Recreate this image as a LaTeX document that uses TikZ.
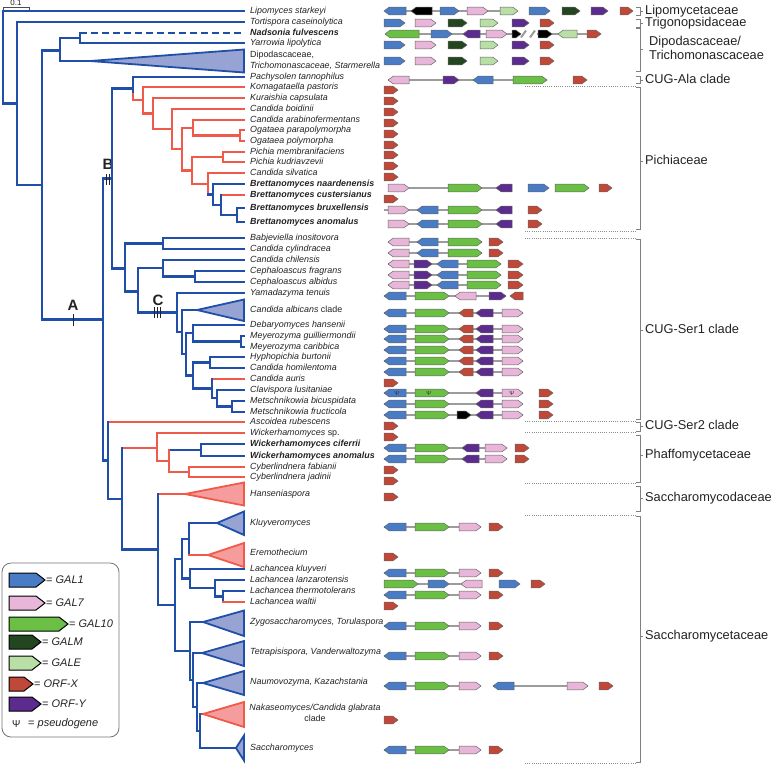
\documentclass[tikz,border=0pt]{standalone}
\usepackage{fontspec}
\setmainfont{Liberation Sans}
\usetikzlibrary{positioning}
\definecolor{treeBlue}{HTML}{1F4FA8}
\definecolor{treeRed}{HTML}{F05A4A}
\definecolor{triBlue}{HTML}{97A3D3}
\definecolor{triRed}{HTML}{F59C9C}
\definecolor{gBlue}{HTML}{4A7BC5}
\definecolor{gPink}{HTML}{E8B6D8}
\definecolor{gGreen}{HTML}{6BBF45}
\definecolor{gDark}{HTML}{23451F}
\definecolor{gLight}{HTML}{B9DEA6}
\definecolor{gRed}{HTML}{BF4838}
\definecolor{gPurple}{HTML}{5B2C8E}
\definecolor{linkGray}{HTML}{9C9C9C}
\definecolor{txt}{HTML}{222222}
\tikzset{
  tb/.style={draw=treeBlue, line width=2.3pt, line cap=rect, line join=miter},
  tr/.style={draw=treeRed, line width=2.3pt, line cap=rect, line join=miter},
  cladeB/.style={draw=treeBlue, fill=triBlue, line width=1.8pt, line join=miter},
  cladeR/.style={draw=treeRed, fill=triRed, line width=1.8pt, line join=miter},
  sp/.style={font=\fontsize{8.9}{10}\selectfont\itshape, text=txt, anchor=west,
    inner sep=0pt, text height=6.4pt, text depth=1.9pt},
  spb/.style={sp, font=\fontsize{8.9}{10}\selectfont\itshape\bfseries},
  fam/.style={font=\fontsize{12.8}{14}\selectfont, text=txt, anchor=west, inner sep=0pt,
    text height=9.2pt, text depth=2.6pt},
  famline/.style={draw=black!50, line width=0.6pt},
  sepline/.style={draw=black!45, line width=0.7pt, dash pattern=on 0.8pt off 1.4pt},
  cladetag/.style={font=\fontsize{15}{15}\selectfont\bfseries, text=txt, inner sep=0pt},
  tickln/.style={draw=txt, line width=0.9pt},
  link/.style={draw=linkGray, line width=2.6pt},
  gene/.style={draw=black!60, line width=0.5pt, line join=miter},
  g1/.style={gene, fill=gBlue}, g7/.style={gene, fill=gPink}, g10/.style={gene, fill=gGreen},
  gm/.style={gene, fill=gDark}, ge/.style={gene, fill=gLight}, gx/.style={gene, fill=gRed},
  gy/.style={gene, fill=gPurple}, gk/.style={gene, fill=black},
  lg/.style={font=\fontsize{11}{12}\selectfont, text=txt, anchor=west, inner sep=1pt},
  psi/.style={font=\fontsize{6}{6}\selectfont, text=black!80, inner sep=0pt}
}
% gene arrows: from x1 to x2 at height y
\newcommand{\gR}[4]{\path[#4] (#1,#3-3.8) -- (#2-5,#3-3.8) -- (#2,#3) -- (#2-5,#3+3.8) -- (#1,#3+3.8) -- cycle;}
\newcommand{\gL}[4]{\path[#4] (#1,#3) -- (#1+5,#3-3.8) -- (#2,#3-3.8) -- (#2,#3+3.8) -- (#1+5,#3+3.8) -- cycle;}
\newcommand{\lgR}[4]{\path[#4, line width=1pt, draw=black] (#1,#3-7) -- (#2-9,#3-7) -- (#2,#3) -- (#2-9,#3+7) -- (#1,#3+7) -- cycle;}
\newcommand{\lnk}[3]{\path[link] (#1,#3) -- (#2,#3);}
% cluster rows
\newcommand{\rowT}[1]{\gR{384}{405}{#1}{g1}\gR{415}{436}{#1}{g7}\gR{448}{467}{#1}{gm}\gR{480}{498}{#1}{ge}\gR{512}{529}{#1}{gy}\gR{540}{554}{#1}{gx}}
\newcommand{\rowBa}[1]{\lnk{388}{482}{#1}\gL{388}{409}{#1}{g7}\gL{417}{438}{#1}{g1}\gR{448}{482}{#1}{g10}\gR{489}{503}{#1}{gx}}
\newcommand{\rowCe}[1]{\lnk{388}{501}{#1}\gL{388}{409}{#1}{g7}\gR{414}{432}{#1}{gy}\gL{437}{458}{#1}{g1}\gR{467}{501}{#1}{g10}\gR{508}{523}{#1}{gx}}
\newcommand{\rowCa}[1]{\lnk{384}{523}{#1}\gL{384}{406}{#1}{g1}\gR{415}{449}{#1}{g10}\gL{459}{473}{#1}{gx}\gL{476}{493}{#1}{gy}\gR{502}{523}{#1}{g7}}
\newcommand{\rowMe}[1]{\lnk{384}{523}{#1}\gL{384}{406}{#1}{g1}\gR{415}{449}{#1}{g10}\gL{476}{493}{#1}{gy}\gR{502}{523}{#1}{g7}\gR{539}{553}{#1}{gx}}
\newcommand{\rowW}[1]{\lnk{384}{507}{#1}\gL{384}{406}{#1}{g1}\gR{415}{449}{#1}{g10}\gL{462}{479}{#1}{gy}\gR{485}{507}{#1}{g7}\gR{515}{529}{#1}{gx}}
\newcommand{\rowS}[1]{\lnk{384}{481}{#1}\gL{384}{406}{#1}{g1}\gR{415}{449}{#1}{g10}\gR{459}{481}{#1}{g7}}
\begin{document}
\begin{tikzpicture}[x=1pt,y=-1pt]
\useasboundingbox (0,0) rectangle (780,764);

% scale bar
\draw[black!70, line width=0.6pt] (3,10) -- (3,7) -- (29,7) -- (29,10);
\node[font=\fontsize{8}{8}\selectfont, text=txt, anchor=base, inner sep=0pt] (scl) at (16,5.5) {0.1};

% tree: outgroups
\draw[tb] (244,11) -- (3,11) -- (3,103.5) -- (17,103.5);
\draw[tb] (244,22) -- (17,22) -- (17,185) -- (42,185);
\draw[tb] (60,50.5) -- (42,50.5) -- (42,319.5) -- (103,319.5);
\draw[tb] (80,38) -- (60,38) -- (60,61) -- (90,61);
\draw[cladeB] (90,61) -- (244,49.5) -- (244,72.5) -- cycle;
\draw[tb] (244,43) -- (80,43) -- (80,33);
\draw[tb, line cap=butt, dash pattern=on 7pt off 4pt] (80,33) -- (244,33);
\draw[tickln] (73,314) -- (73,326);
\node[cladetag] (mA) at (73,305) {A};
\draw[tb] (112,178.5) -- (103,178.5) -- (103,460.5) -- (108,460.5);
\draw[tickln] (106,174) -- (106,185) (109,174) -- (109,185);
\node[cladetag] (mB) at (108,164) {B};
\draw[tb] (133,88.5) -- (112,88.5) -- (112,268.5) -- (125,268.5);

% CUG-Ala and Pichiaceae
\draw[tb] (244,77) -- (133,77) -- (133,94);
\draw[tr] (133,94) -- (133,100) -- (143,100);
\draw[tr] (244,87) -- (143,87) -- (143,113.5) -- (153,113.5);
\draw[tr] (244,98) -- (153,98) -- (153,129) -- (172,129);
\draw[tr] (244,109) -- (172,109) -- (172,149) -- (182,149);
\draw[tr] (193,128) -- (182,128) -- (182,170.5) -- (192,170.5);
\draw[tr] (244,120) -- (193,120) -- (193,135.5) -- (240,135.5);
\draw[tr] (244,130) -- (240,130) -- (240,141) -- (244,141);
\draw[tr] (223,157) -- (192,157) -- (192,184) -- (208,184);
\draw[tr] (244,152) -- (223,152) -- (223,162) -- (244,162);
\draw[tr] (244,173) -- (208,173) -- (208,194.5);
\draw[tb] (208,194.5) -- (213,194.5);
\draw[tb] (244,184) -- (213,184) -- (213,205) -- (221,205);
\draw[tr] (244,195) -- (221,195);
\draw[tb] (221,195) -- (221,215) -- (237,215);
\draw[tb] (244,208) -- (237,208) -- (237,222) -- (244,222);

% CUG-Ser1
\draw[tb] (163,243.5) -- (125,243.5) -- (125,291.5) -- (138,291.5);
\draw[tb] (244,238) -- (163,238) -- (163,249) -- (244,249);
\draw[tb] (163,268) -- (138,268) -- (138,312.5) -- (177,312.5);
\draw[tickln] (154,307) -- (154,318) (157,307) -- (157,318) (160,307) -- (160,318);
\node[cladetag] (mC) at (158,300) {C};
\draw[tb] (244,260) -- (163,260) -- (163,276.5) -- (195,276.5);
\draw[tb] (244,271) -- (195,271) -- (195,282) -- (244,282);
\draw[tb] (244,293) -- (177,293) -- (177,332) -- (182,332);
\draw[tb] (197,310) -- (182,310) -- (182,354) -- (186,354);
\draw[cladeB] (197,310) -- (244,299.5) -- (244,321) -- cycle;
\draw[tb] (193,333) -- (186,333) -- (186,375.5) -- (193,375.5);
\draw[tb] (244,325) -- (193,325) -- (193,341.5) -- (241,341.5);
\draw[tb] (244,336) -- (241,336) -- (241,347) -- (244,347);
\draw[tb] (210,362.5) -- (193,362.5) -- (193,388.5) -- (212,388.5);
\draw[tb] (244,357) -- (210,357) -- (210,368) -- (244,368);
\draw[tr] (244,379) -- (212,379);
\draw[tb] (212,379) -- (212,398) -- (217,398);
\draw[tb] (244,390) -- (217,390) -- (217,406.5) -- (232,406.5);
\draw[tb] (244,401) -- (232,401) -- (232,412) -- (244,412);

% Ascoidea, Phaffomycetaceae, Saccharomycodaceae, Saccharomycetaceae
\draw[tr] (244,422) -- (108,422);
\draw[tb] (108,422) -- (108,499) -- (122,499);
\draw[tr] (157,448) -- (122,448);
\draw[tb] (122,448) -- (122,549.5) -- (158,549.5);
\draw[tr] (244,433) -- (157,433) -- (157,461) -- (169,461);
\draw[tb] (201,450) -- (169,450);
\draw[tr] (169,450) -- (169,472) -- (189,472);
\draw[tb] (244,444) -- (201,444) -- (201,456) -- (244,456);
\draw[tr] (244,467) -- (189,467) -- (189,477) -- (244,477);
\draw[tr] (158,494) -- (185,494);
\draw[cladeR] (185,494) -- (244,482.5) -- (244,505.5) -- cycle;
\draw[tb] (158,494) -- (158,605) -- (175,605);
\draw[tb] (182,559) -- (175,559) -- (175,651) -- (190,651);
\draw[tb] (189,539) -- (182,539) -- (182,578.5) -- (190,578.5);
\draw[tb] (217,523) -- (189,523) -- (189,555);
\draw[tr] (189,555) -- (208,555);
\draw[cladeB] (217,523) -- (244,511.5) -- (244,535) -- cycle;
\draw[cladeR] (208,555) -- (244,543) -- (244,567) -- cycle;
\draw[tb] (244,569) -- (190,569) -- (190,588) -- (215,588);
\draw[tb] (244,580) -- (215,580) -- (215,596.5) -- (223,596.5);
\draw[tb] (244,591) -- (223,591) -- (223,602);
\draw[tr] (223,602) -- (244,602);
\draw[tb] (203,622) -- (190,622) -- (190,680) -- (193,680);
\draw[cladeB] (203,622) -- (244,610.5) -- (244,636) -- cycle;
\draw[tb] (202,653) -- (193,653) -- (193,707) -- (197,707);
\draw[cladeB] (202,653) -- (244,641) -- (244,666) -- cycle;
\draw[tb] (203,683) -- (197,683) -- (197,731) -- (200,731);
\draw[cladeB] (203,683) -- (244,671) -- (244,695) -- cycle;
\draw[tb] (203,714) -- (200,714) -- (200,748) -- (236,748);
\draw[cladeR] (203,714) -- (244,702) -- (244,727) -- cycle;
\draw[cladeB] (236,748) -- (244,735.5) -- (244,760.5) -- cycle;

% species labels
\foreach \y/\n/\t in {11/lip/Lipomyces starkeyi, 22/tor/Tortispora caseinolytica,
  43/yar/Yarrowia lipolytica, 66/dip/{Trichomonascaceae, Starmerella},
  77/pac/Pachysolen tannophilus, 87/kom/Komagataella pastoris, 98/kur/Kuraishia capsulata,
  109/cbo/Candida boidinii, 120/car/Candida arabinofermentans, 130/ogp/Ogataea parapolymorpha,
  141/ogy/Ogataea polymorpha, 152/pme/Pichia membranifaciens, 162/pku/Pichia kudriavzevii,
  173/csi/Candida silvatica, 238/bab/Babjeviella inositovora, 249/ccy/Candida cylindracea,
  260/cch/Candida chilensis, 271/cef/Cephaloascus fragrans, 282/cea/Cephaloascus albidus,
  293/yam/Yamadazyma tenuis, 310/cal/Candida albicans {\upshape clade},
  325/deb/Debaryomyces hansenii, 336/meg/Meyerozyma guilliermondii, 347/mec/Meyerozyma caribbica,
  357/hyp/Hyphopichia burtonii, 368/cho/Candida homilentoma, 379/cau/Candida auris,
  390/cla/Clavispora lusitaniae, 401/mbi/Metschnikowia bicuspidata, 412/mfr/Metschnikowia fructicola,
  422/asc/Ascoidea rubescens, 433/wsp/Wickerhamomyces {\upshape sp.},
  467/cyf/Cyberlindnera fabianii, 477/cyj/Cyberlindnera jadinii, 494/han/Hanseniaspora,
  523/klu/Kluyveromyces, 553/ere/Eremothecium, 569/lkl/Lachancea kluyveri,
  580/lla/Lachancea lanzarotensis, 591/lth/Lachancea thermotolerans, 602/lwa/Lachancea waltii,
  622/zyg/{Zygosaccharomyces, Torulaspora}, 652/tet/{Tetrapisispora, Vanderwaltozyma},
  682/nau/{Naumovozyma, Kazachstania}, 748/sac/Saccharomyces}
  \node[sp] (\n) at (250,\y) {\t};
\node[sp, font=\fontsize{8.9}{10}\selectfont] (dipa) at (250,55) {Dipodascaceae,};
\foreach \y/\n/\t in {33/nad/Nadsonia fulvescens, 184/bna/Brettanomyces naardenensis,
  195/bcu/Brettanomyces custersianus, 208/bbr/Brettanomyces bruxellensis,
  222/ban/Brettanomyces anomalus, 444/wci/Wickerhamomyces ciferrii, 456/wan/Wickerhamomyces anomalus}
  \node[spb] (\n) at (250,\y) {\t};
\node[sp, anchor=center] (naka) at (315,708) {Nakaseomyces/Candida glabrata};
\node[sp, anchor=center, font=\fontsize{8.9}{10}\selectfont] (nakb) at (315,719) {clade};

% gene clusters
\lnk{395}{515}{11}
\gL{384}{406}{11}{g1}\gL{411}{432}{11}{gk}\gR{440}{459}{11}{g1}\gR{467}{488}{11}{g7}\gR{500}{518}{11}{ge}
\gR{529}{550}{11}{g1}\gR{562}{580}{11}{gm}\gR{591}{608}{11}{gy}\gR{620}{633}{11}{gx}
\rowT{23}
\lnk{400}{521}{34}\lnk{537}{590}{34}
\draw[linkGray, line width=2pt] (521,37.5) -- (526,30.5) (530,37.5) -- (535,30.5);
\gL{385}{419}{34}{g10}\gR{431}{452}{34}{g1}\gL{463}{480}{34}{gy}\gR{486}{507}{34}{g7}
\gR{512}{521}{34}{gk}\gR{538}{552}{34}{gk}\gL{558}{577}{34}{ge}\gR{587}{601}{34}{gx}
\rowT{45}
\rowT{61}
\lnk{388}{547}{80}
\gL{388}{409}{80}{g7}\gR{443}{459}{80}{gy}\gL{473}{493}{80}{g1}\gR{513}{547}{80}{g10}\gR{573}{587}{80}{gx}
\foreach \y in {90,101,112,123,134,145,155,166,177,199,383,426,437,470,481,497,557,606,720}
  \gR{384}{398}{\y}{gx};
\lnk{409}{512}{188}
\gR{388}{409}{188}{g7}\gR{448}{482}{188}{g10}\gL{496}{512}{188}{gy}\gR{528}{549}{188}{g1}
\gR{555}{589}{188}{g10}\gR{599}{612}{188}{gx}
\foreach \y/\s in {210/384, 224/388}{
  \lnk{\s}{496}{\y}
  \gR{388}{409}{\y}{g7}\gL{417}{438}{\y}{g1}\gR{448}{482}{\y}{g10}\gL{496}{512}{\y}{gy}\gR{528}{542}{\y}{gx}
}
\rowBa{242}
\rowBa{253}
\foreach \y in {264,275,285}{\rowCe{\y}}
\lnk{384}{506}{296}
\gL{384}{406}{296}{g1}\gR{415}{449}{296}{g10}\gL{455}{476}{296}{g7}\gR{489}{506}{296}{gy}\gL{510}{523}{296}{gx}
\foreach \y in {313,329,339,350,361,372}{\rowCa{\y}}
\rowMe{393}
\node[psi] (p1) at (397,393) {Ψ};
\node[psi] (p2) at (429,393) {Ψ};
\node[psi] (p3) at (512,393) {Ψ};
\rowMe{404}
\rowMe{415}
\gR{457}{471}{415}{gk}
\rowW{448}
\rowW{459}
\foreach \y in {527,573,595,626,656,750}{\rowS{\y}\gR{489}{503}{\y}{gx}}
\lnk{384}{482}{584}
\gR{384}{418}{584}{g10}\gR{428}{449}{584}{g1}\gL{461}{482}{584}{g7}\gR{499}{520}{584}{g1}\gR{531}{545}{584}{gx}
\rowS{686}
\lnk{493}{588}{686}
\gL{493}{514}{686}{g1}\gR{567}{588}{686}{g7}\gR{599}{613}{686}{gx}

% family brackets
\foreach \a/\b/\m in {7/15/11, 19/27/23, 28/71/49, 76/83/80, 87/229/161, 239/419/330,
  422/431/426, 435/482/455, 486/511/498, 516/762/636}
  \draw[famline] (636,\a) -- (640,\a) -- (640,\b) -- (636,\b) (640,\m) -- (643,\m);
\foreach \y in {86,231,238,421,432,483,515,763}
  \draw[sepline] (525,\y) -- (636,\y);
\node[fam] (lipc) at (645,11) {Lipomycetaceae};
\node[fam] (trig) at (645,23) {Trigonopsidaceae};
\node[fam] (dipc) at (649,42) {Dipodascaceae/};
\node[fam] (tric) at (649,56) {Trichomonascaceae};
\node[fam] (ala) at (645,80) {CUG-Ala clade};
\node[fam] (pich) at (645,161) {Pichiaceae};
\node[fam] (ser1) at (645,330) {CUG-Ser1 clade};
\node[fam] (ser2) at (645,426) {CUG-Ser2 clade};
\node[fam] (phaf) at (645,455) {Phaffomycetaceae};
\node[fam] (sycd) at (645,498) {Saccharomycodaceae};
\node[fam] (sytc) at (645,636) {Saccharomycetaceae};

% legend
\draw[black!55, line width=0.8pt, rounded corners=9pt] (2,563) rectangle (119,737);
\lgR{9}{45}{580}{g1}
\lgR{9}{45}{603}{g7}
\lgR{9}{68}{624}{g10}
\lgR{9}{41}{642}{gm}
\lgR{9}{41}{663}{ge}
\lgR{9}{33}{684}{gx}
\lgR{9}{41}{704}{gy}
\node[lg] (l1) at (45,580) {= \textit{GAL1}};
\node[lg] (l7) at (45,603) {= \textit{GAL7}};
\node[lg] (l10) at (68,624) {= \textit{GAL10}};
\node[lg] (lm) at (41,642) {= \textit{GALM}};
\node[lg] (le) at (41,663) {= \textit{GALE}};
\node[lg] (lx) at (33,684) {= \textit{ORF-X}};
\node[lg] (ly) at (41,704) {= \textit{ORF-Y}};
\node[lg, font=\fontsize{10}{11}\selectfont] (lpsi) at (11,724) {Ψ};
\node[lg] (lpg) at (27,724) {= \textit{pseudogene}};
\end{tikzpicture}
\end{document}
